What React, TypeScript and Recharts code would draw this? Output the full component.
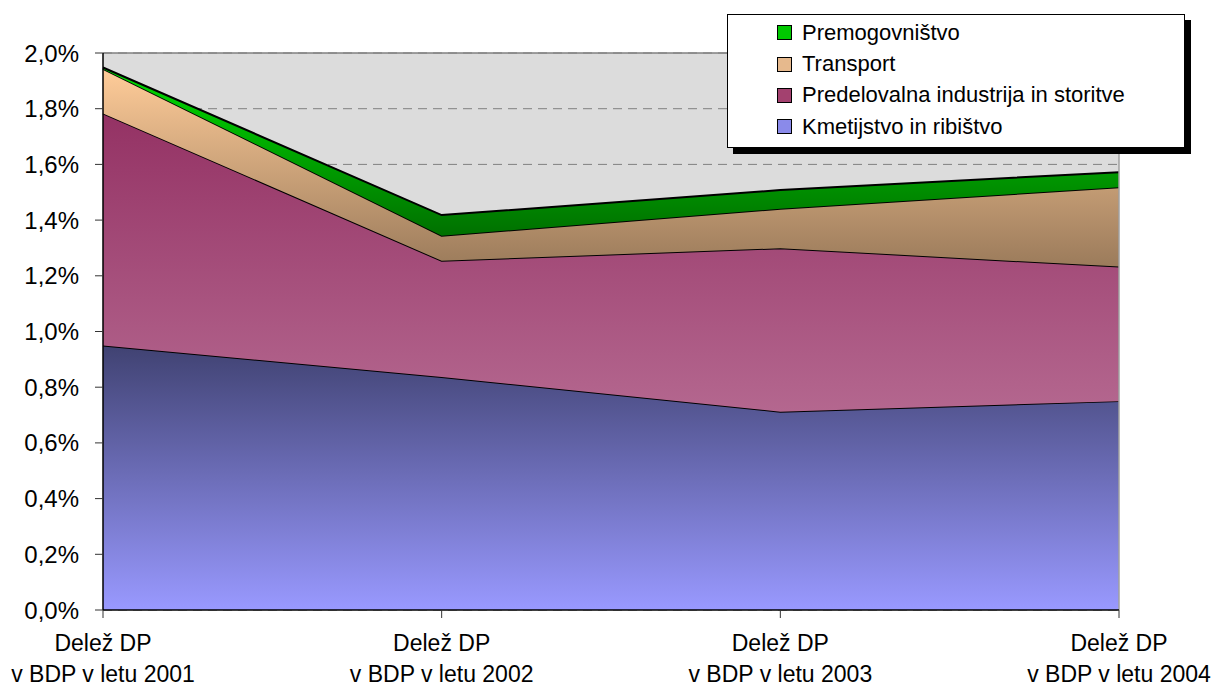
import { AreaChart, Area, XAxis, YAxis, CartesianGrid, ReferenceLine } from 'recharts';

const years = ['2001', '2002', '2003', '2004'];
const kmetijstvo = [0.95, 0.837, 0.712, 0.75];
const predelovalna = [0.833, 0.417, 0.587, 0.483];
const transport = [0.16, 0.09, 0.142, 0.285];
const premogovnistvo = [0.005, 0.074, 0.067, 0.054];
const yTicks = [0, 0.2, 0.4, 0.6, 0.8, 1.0, 1.2, 1.4, 1.6, 1.8, 2.0];

const data = years.map((y, i) => ({
  year: y,
  kmet: kmetijstvo[i],
  pred: predelovalna[i],
  trans: transport[i],
  prem: premogovnistvo[i],
}));

// legend order is top-down, reverse of stacking
const legendItems = [
  { name: 'Premogovništvo', color: '#00c800' },
  { name: 'Transport', color: '#e6b98d' },
  { name: 'Predelovalna industrija in storitve', color: '#a3416f' },
  { name: 'Kmetijstvo in ribištvo', color: '#8a8aea' },
];

const font = '"Liberation Sans", Arial, sans-serif';

function XTick({ x, y, payload }: any) {
  return (
    <text x={x} y={y} textAnchor="middle" fontFamily={font} fontSize={23} fill="#000">
      <tspan x={x} dy={29}>Delež DP</tspan>
      <tspan x={x} dy={31}>{`v BDP v letu ${payload.value}`}</tspan>
    </text>
  );
}

function LegendBox() {
  return (
    <div
      style={{
        position: 'absolute',
        left: 727,
        top: 14,
        width: 456,
        height: 130,
        border: '1px solid #000',
        background: '#fff',
        boxShadow: '6px 6px 0 #000',
        paddingTop: 2,
        boxSizing: 'content-box',
        fontFamily: font,
        fontSize: 22,
      }}
    >
      {legendItems.map((it) => (
        <div key={it.name} style={{ height: 31.4, display: 'flex', alignItems: 'center', paddingLeft: 49 }}>
          <span
            style={{
              display: 'inline-block',
              width: 13,
              height: 13,
              background: it.color,
              border: '1px solid #000',
              marginRight: 10,
            }}
          />
          <span>{it.name}</span>
        </div>
      ))}
    </div>
  );
}

export default function App() {
  return (
    <div style={{ position: 'absolute', left: 0, top: 0, width: 1213, height: 686, background: '#fff' }}>
      <AreaChart width={1213} height={686} data={data} margin={{ top: 53, right: 94, left: 0, bottom: 0 }}>
        <defs>
          <linearGradient id="gKmet" x1="0" y1="0" x2="0" y2="1">
            <stop offset="0%" stopColor="#404272" />
            <stop offset="100%" stopColor="#9999ff" />
          </linearGradient>
          <linearGradient id="gPred" x1="0" y1="0" x2="0" y2="1">
            <stop offset="0%" stopColor="#943264" />
            <stop offset="100%" stopColor="#b4678f" />
          </linearGradient>
          <linearGradient id="gTrans" x1="0" y1="0" x2="0" y2="1">
            <stop offset="0%" stopColor="#ffcc99" />
            <stop offset="100%" stopColor="#9b7b5b" />
          </linearGradient>
          <linearGradient id="gPrem" x1="0" y1="0" x2="0" y2="1">
            <stop offset="0%" stopColor="#00dd00" />
            <stop offset="100%" stopColor="#007000" />
          </linearGradient>
        </defs>
        <CartesianGrid vertical={false} stroke="#808080" strokeDasharray="9 6" fill="#dcdcdc" />
        <XAxis
          dataKey="year"
          interval={0}
          height={76}
          tick={<XTick />}
          tickSize={8}
          tickMargin={4}
          axisLine={{ stroke: '#000', strokeWidth: 1.5 }}
          tickLine={{ stroke: '#333' }}
        />
        <YAxis
          width={103}
          domain={[0, 2]}
          ticks={yTicks}
          interval={0}
          tickFormatter={(v: number) => v.toFixed(1).replace('.', ',') + '%'}
          tick={{ fill: '#000', fontSize: 24, fontFamily: font }}
          tickSize={8}
          tickMargin={16}
          axisLine={{ stroke: '#000', strokeWidth: 1.5 }}
          tickLine={{ stroke: '#333' }}
        />
        <Area type="linear" dataKey="kmet" stackId="1" stroke="#000" strokeWidth={2} fill="url(#gKmet)" fillOpacity={1} isAnimationActive={false} />
        <Area type="linear" dataKey="pred" stackId="1" stroke="#000" strokeWidth={2} fill="url(#gPred)" fillOpacity={1} isAnimationActive={false} />
        <Area type="linear" dataKey="trans" stackId="1" stroke="#000" strokeWidth={2} fill="url(#gTrans)" fillOpacity={1} isAnimationActive={false} />
        <Area type="linear" dataKey="prem" stackId="1" stroke="#000" strokeWidth={2} fill="url(#gPrem)" fillOpacity={1} isAnimationActive={false} />
        <ReferenceLine y={2} stroke="#808080" strokeWidth={1.5} />
        <ReferenceLine x="2004" stroke="#a0a0a0" strokeWidth={1.5} />
      </AreaChart>
      <LegendBox />
    </div>
  );
}
